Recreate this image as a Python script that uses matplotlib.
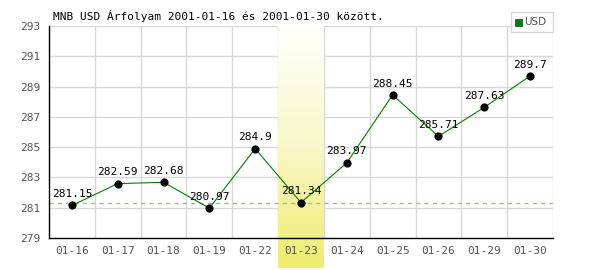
import numpy as np
import matplotlib.pyplot as plt
from matplotlib.colors import LinearSegmentedColormap
from matplotlib.patches import Rectangle

# data
dates = ['01-16', '01-17', '01-18', '01-19', '01-22', '01-23',
         '01-24', '01-25', '01-26', '01-29', '01-30']
usd = [281.15, 282.59, 282.68, 280.97, 284.9, 281.34,
       283.97, 288.45, 285.71, 287.63, 289.7]
y_ticks = [279, 281, 283, 285, 287, 289, 291, 293]
highlight_idx = 5
title = 'MNB USD Árfolyam 2001-01-16 és 2001-01-30 között.'

mono = 'DejaVu Sans Mono'
grey = '#555555'

fig = plt.figure(figsize=(6, 2.7), dpi=100)
ax = fig.add_axes([49 / 600, 1 - 238 / 270, 504 / 600, 212 / 270])

x = np.arange(len(dates))

# grid at category boundaries
for b in np.arange(-0.5, len(dates) + 0.5, 1.0)[1:]:
    ax.axvline(b, color='#d8d8d8', lw=1, zorder=0)
for t in y_ticks[1:]:
    ax.axhline(t, color='#d8d8d8', lw=1, zorder=0)

# highlighted day, gradient from white to yellow, runs below the axis
cmap = LinearSegmentedColormap.from_list('hl', ['#fffffc', '#f9f7c8', '#f0ec6c'])
grad = np.linspace(0, 1, 256).reshape(-1, 1)
y_bottom = y_ticks[0] - 1.98
ax.imshow(grad, cmap=cmap, aspect='auto', origin='upper',
          extent=[highlight_idx - 0.5, highlight_idx + 0.5, y_bottom, y_ticks[-1]],
          clip_on=False, zorder=1)
ax.set_xlim(-0.5, len(dates) - 0.5)
ax.set_ylim(y_ticks[0], y_ticks[-1])

ax.axhline(usd[highlight_idx], color='#88cc88', lw=1, ls=(0, (3, 3)), zorder=2)

ax.plot(x, usd, color='#008000', lw=0.8, zorder=3)
ax.scatter(x, usd, s=24, color='black', zorder=4)
for xi, v in zip(x, usd):
    ax.annotate(f'{v:g}', (xi, v), xytext=(0, 4.5), textcoords='offset points',
                ha='center', va='bottom', fontsize=8, family=mono, zorder=5)

ax.set_xticks(x)
ax.set_xticklabels(dates)
ax.set_yticks(y_ticks)
ax.tick_params(length=0, labelsize=8, colors=grey, pad=6)
for lab in ax.get_xticklabels() + ax.get_yticklabels():
    lab.set_family(mono)

for s in ['top', 'right']:
    ax.spines[s].set_visible(False)
for s in ['left', 'bottom']:
    ax.spines[s].set_color('black')
    ax.spines[s].set_linewidth(1)
    ax.spines[s].set_zorder(6)

fig.text(53 / 600, 1 - 16 / 270, title, fontsize=8, family=mono,
         ha='left', va='center')

# legend box
fig.patches.append(Rectangle((511 / 600, 1 - 32 / 270), 42 / 600, 20 / 270,
                             transform=fig.transFigure, facecolor='white',
                             edgecolor='#d8d8d8', lw=1, zorder=10))
fig.patches.append(Rectangle((515 / 600, 1 - 26 / 270), 7 / 600, 7 / 270,
                             transform=fig.transFigure, facecolor='#008000',
                             edgecolor='#333333', lw=0.5, zorder=11))
fig.text(524 / 600, 1 - 22 / 270, 'USD', fontsize=7.5, color=grey,
         ha='left', va='center', zorder=12)

fig.savefig('out.png', dpi=100)
